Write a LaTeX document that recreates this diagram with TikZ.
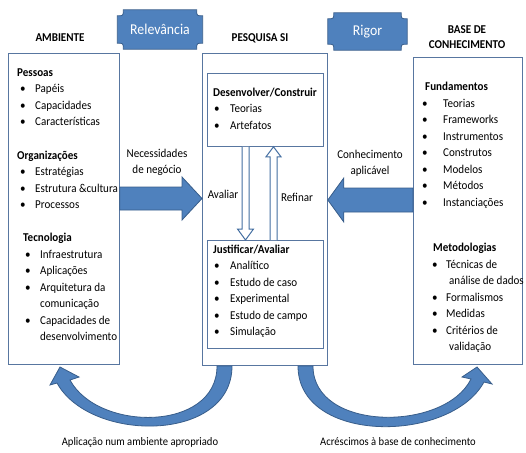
\documentclass[tikz,border=0pt]{standalone}
\usepackage{fontspec}
\setmainfont{Carlito}[FakeStretch=0.92]
\usepackage{tikz}
\usetikzlibrary{positioning,calc,backgrounds}

\definecolor{boxline}{RGB}{88,118,160}
\definecolor{arrowfill}{RGB}{79,129,189}
\definecolor{arrowline}{RGB}{56,93,138}

% list helpers: heading, bullet item, continued line
\newcommand{\hd}[2][0pt]{\hspace*{#1}\textbf{#2}}
\newcommand{\itm}[2][15pt]{\makebox[#1][l]{\textbullet}#2}
\newcommand{\cont}[2][15pt]{\hspace*{#1}#2}

% plaque outline around a named node (concave corners)
\newcommand{\plaque}[1]{%
  \path[tabshape] ($(#1.north west)+(6,0)$) -- ($(#1.north east)+(-6,0)$)
    .. controls ($(#1.north east)+(-6,6)$) .. ($(#1.north east)+(0,6)$)
    -- ($(#1.south east)+(0,-6)$)
    .. controls ($(#1.south east)+(-6,-6)$) .. ($(#1.south east)+(-6,0)$)
    -- ($(#1.south west)+(6,0)$)
    .. controls ($(#1.south west)+(6,-6)$) .. ($(#1.south west)+(0,-6)$)
    -- ($(#1.north west)+(0,6)$)
    .. controls ($(#1.north west)+(6,6)$) .. ($(#1.north west)+(6,0)$) -- cycle;}

\begin{document}
\begin{tikzpicture}[x=1pt, y=-1pt,
  every node/.style={font=\fontsize{12}{16.5}\selectfont},
  panel/.style={draw=boxline, line width=0.8pt, anchor=north west, inner sep=0pt},
  list/.style={anchor=north west, align=left, inner sep=0pt,
    execute at begin node=\strut},
  title/.style={font=\fontsize{12}{15}\selectfont\bfseries, align=center},
  tab/.style={minimum width=85pt, minimum height=39pt, text=white,
    font=\fontsize{15}{18}\selectfont},
  tabshape/.style={fill=arrowfill, draw=arrowline, line width=0.8pt},
  bigarrow/.style={fill=arrowfill, draw=arrowline, line width=0.8pt},
  hollow/.style={fill=white, draw=arrowfill!85!black, line width=1pt},
  ]
  \useasboundingbox (0,0) rectangle (526,452);

  % three columns
  \node[panel, minimum width=111pt, minimum height=311pt] (amb) at (8,53) {};
  \node[panel, minimum width=125pt, minimum height=312pt] (pes) at (202,53) {};
  \node[panel, minimum width=109pt, minimum height=307pt] (base) at (413,57) {};
  \node[panel, minimum width=116pt, minimum height=73pt] (dev) at (207,73) {};
  \node[panel, minimum width=116pt, minimum height=108pt] (jus) at (207,240) {};

  \node[title] (tamb) at (60,38) {AMBIENTE};
  \node[title] (tpes) at (260,38) {PESQUISA SI};
  \node[title] (tbase) at (467,37.5) {BASE DE\\CONHECIMENTO};

  % tabs
  \node[tab] (rel) at (160,29.5) {Relevância};
  \node[tab, minimum width=79pt, minimum height=37pt] (rig) at (367.5,31.5) {Rigor};
  \begin{scope}[on background layer]
    \plaque{rel}
    \plaque{rig}
  \end{scope}

  % ambiente
  \node[list] (pessoas) at (20,68.5) {\hd[-3pt]{Pessoas}\\ \itm{Papéis}\\
    \itm{Capacidades}\\ \itm{Características}};
  \node[list] (org) at (20,150.5) {\hd[-3pt]{Organizações}\\ \itm{Estratégias}\\
    \itm{Estrutura \&cultura}\\ \itm{Processos}};
  \node[list] (tec) at (25,233) {\hd[-2pt]{Tecnologia}\\ \itm{Infraestrutura}\\
    \itm{Aplicações}\\ \itm{Arquitetura da}\\ \cont{comunicação}\\
    \itm{Capacidades de}\\ \cont{desenvolvimento}};

  % pesquisa
  \node[list] (devl) at (214,87.5) {\hd[-1pt]{Desenvolver/Construir}\\
    \itm[16pt]{Teorias}\\ \itm[16pt]{Artefatos}};
  \node[list] (jusl) at (214,244.5) {\hd[-1pt]{Justificar/Avaliar}\\
    \itm[16pt]{Analítico}\\ \itm[16pt]{Estudo de caso}\\ \itm[16pt]{Experimental}\\
    \itm[16pt]{Estudo de campo}\\ \itm[16pt]{Simulação}};

  % base de conhecimento
  \node[list] (fund) at (422,82) {\hd[3pt]{Fundamentos}\\ \itm[21pt]{Teorias}\\
    \itm[21pt]{Frameworks}\\ \itm[21pt]{Instrumentos}\\ \itm[21pt]{Construtos}\\
    \itm[21pt]{Modelos}\\ \itm[21pt]{Métodos}\\ \itm[21pt]{Instanciações}};
  \node[list] (met) at (432,243) {\hd[1pt]{Metodologias}\\ \itm[14pt]{Técnicas de}\\
    \cont[17pt]{análise de dados}\\ \itm[14pt]{Formalismos}\\ \itm[14pt]{Medidas}\\
    \itm[14pt]{Critérios de}\\ \cont[17pt]{validação}};

  % big arrows into the research column
  \coordinate (lvl) at (0,198.5);
  \coordinate (lvr) at (0,200);
  \coordinate (needA) at (amb.east |- lvl);
  \coordinate (needB) at (pes.west |- lvl);
  \path[bigarrow] ($(needA)+(0,-11.5)$) -- ($(needB)+(-20,-11.5)$)
    -- ($(needB)+(-20,-21.5)$) -- (needB) -- ($(needB)+(-20,21.5)$)
    -- ($(needB)+(-20,11.5)$) -- ($(needA)+(0,11.5)$) -- cycle;
  \coordinate (knowA) at (base.west |- lvr);
  \coordinate (knowB) at (pes.east |- lvr);
  \path[bigarrow] ($(knowA)+(0,-12)$) -- ($(knowB)+(16,-12)$)
    -- ($(knowB)+(16,-22)$) -- (knowB) -- ($(knowB)+(16,22)$)
    -- ($(knowB)+(16,12)$) -- ($(knowA)+(0,12)$) -- cycle;

  \node[align=center] (neg) at (157,162.5) {Necessidades\\de negócio};
  \node[align=center] (apl) at (370,163.5) {Conhecimento\\aplicável};

  % evaluate / refine loop
  \coordinate (xav) at (245.5,0);
  \coordinate (xrf) at (273.5,0);
  \path[hollow] ($(dev.south -| xav)+(-3.5,0)$) -- ($(jus.north -| xav)+(-3.5,-11)$)
    -- ($(jus.north -| xav)+(-8,-11)$) -- (jus.north -| xav)
    -- ($(jus.north -| xav)+(8,-11)$) -- ($(jus.north -| xav)+(3.5,-11)$)
    -- ($(dev.south -| xav)+(3.5,0)$);
  \path[hollow] ($(jus.north -| xrf)+(-3.5,0)$) -- ($(dev.south -| xrf)+(-3.5,10)$)
    -- ($(dev.south -| xrf)+(-7.5,10)$) -- (dev.south -| xrf)
    -- ($(dev.south -| xrf)+(7.5,10)$) -- ($(dev.south -| xrf)+(3.5,10)$)
    -- ($(jus.north -| xrf)+(3.5,0)$);
  \node (aval) at (223,194) {Avaliar};
  \node (refi) at (297,197) {Refinar};

  % curved arrows back out
  \path[bigarrow] (217,366) -- (232,366) .. controls (232,443) and (90,443) .. (57,383)
    -- (50,385) -- (60,367) -- (79,377) -- (70,380)
    .. controls (98,432) and (217,432) .. (217,366) -- cycle;
  \path[bigarrow] (298,366) .. controls (298,444) and (450,444) .. (484,382)
    -- (492,384) -- (477,367) -- (462,377) -- (471,379)
    .. controls (445,432) and (313,432) .. (313,366) -- cycle;
  \node[font=\fontsize{11.5}{14}\selectfont] (aplamb) at (140,442)
    {Aplicação num ambiente apropriado};
  \node[font=\fontsize{11.5}{14}\selectfont] (acres) at (398,442)
    {Acréscimos à base de conhecimento};
\end{tikzpicture}
\end{document}
